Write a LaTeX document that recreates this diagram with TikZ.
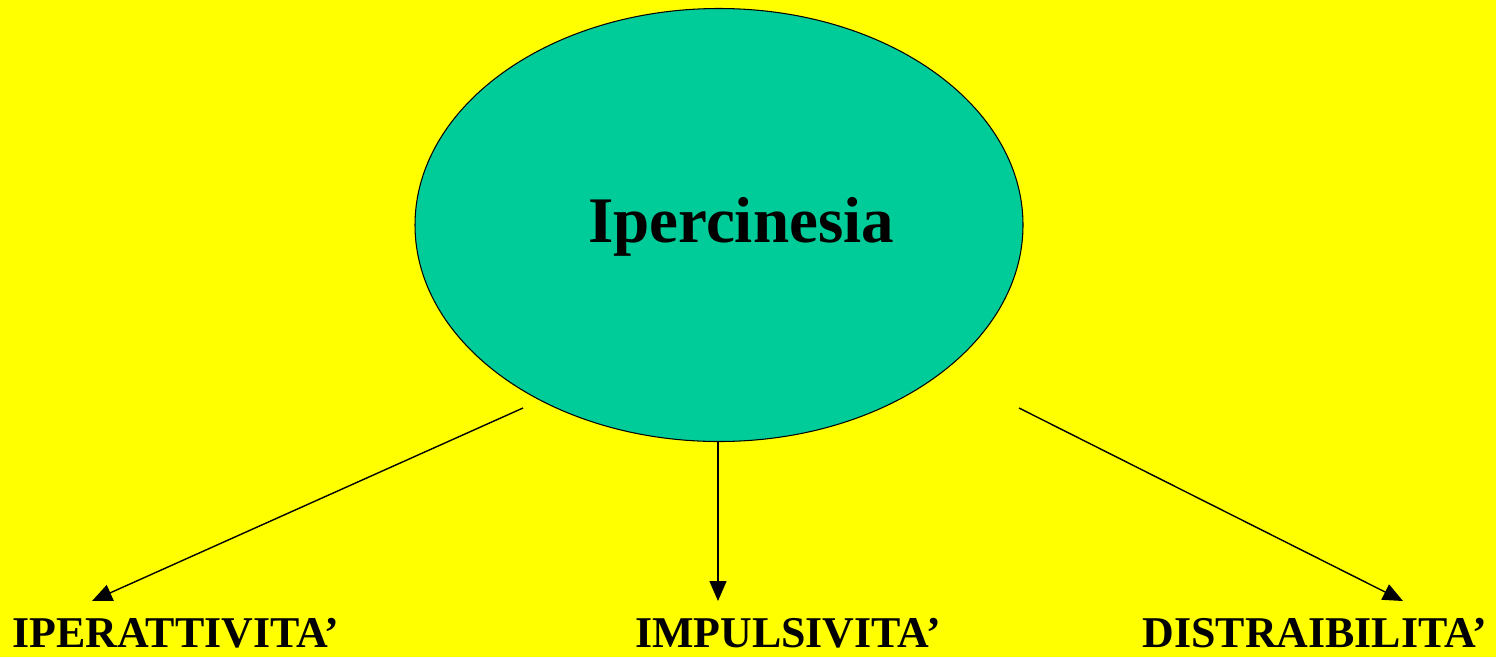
\documentclass[tikz,border=0pt]{standalone}
\usepackage{fontspec}
\setmainfont{Liberation Serif}
\usetikzlibrary{arrows.meta,shapes.geometric}
\definecolor{bgyellow}{HTML}{FFFF00}
\definecolor{ellgreen}{HTML}{00CC99}
\tikzset{
  lbl/.style={anchor=base, font=\fontsize{25}{28}\selectfont\bfseries, inner sep=0pt, text depth=0pt},
  conn/.style={line width=0.8pt, -{Triangle[length=0.4cm,width=0.34cm]}}
}
\begin{document}
\begin{tikzpicture}[x=0.02cm,y=-0.02cm]
\fill[bgyellow] (0,0) rectangle (1496,657);
\useasboundingbox (0,0) rectangle (1496,657);
\node[ellipse, draw=black, line width=0.6pt, fill=ellgreen, minimum width=608*0.02cm, minimum height=433*0.02cm, inner sep=0pt] (e) at (719,225) {};
\node[anchor=base, font=\fontsize{37}{42}\selectfont\bfseries, inner sep=0pt] (t) at (741,242) {Ipercinesia};
\coordinate (s1) at (523,408);
\coordinate (s2) at (718,441);
\coordinate (s3) at (1019,408);
\coordinate (a1) at (92,601);
\coordinate (a2) at (718,601);
\coordinate (a3) at (1403,601);
\node[lbl] (l1) at (176,647) {IPERATTIVITA’};
\node[lbl] (l2) at (788,647) {IMPULSIVITA’};
\node[lbl] (l3) at (1315,647) {DISTRAIBILITA’};
\draw[conn] (s1) -- (a1);
\draw[conn] (s2) -- (a2);
\draw[conn] (s3) -- (a3);
\end{tikzpicture}
\end{document}
